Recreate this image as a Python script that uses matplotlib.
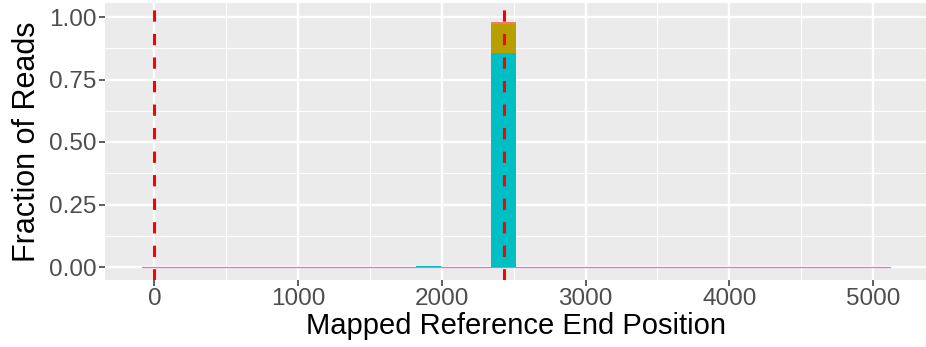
import numpy as np
import matplotlib.pyplot as plt
from matplotlib.ticker import MultipleLocator

# histogram setup (30 bins over the read end positions)
bin_lo = -84
bin_hi = 5118
n_bins = 30

# fraction of reads per bin, one array per group (stack order bottom -> top)
frac_magenta = [0.0] * 30
frac_blue = [0.0] * 30
frac_cyan = [0.0] * 30
frac_green = [0.0] * 30
frac_olive = [0.0] * 30
frac_salmon = [0.0] * 30
frac_cyan[11] = 0.006
frac_cyan[14] = 0.856
frac_olive[14] = 0.118
frac_salmon[14] = 0.005

vlines = [0, 2430]

groups = [
    (frac_magenta, '#F564E3'),
    (frac_blue, '#619CFF'),
    (frac_cyan, '#00BFC4'),
    (frac_green, '#00BA38'),
    (frac_olive, '#B79F00'),
    (frac_salmon, '#F8766D'),
]

plt.rcParams['font.family'] = ['Liberation Sans', 'DejaVu Sans']

fig = plt.figure(figsize=(9.26, 3.47), dpi=100)
ax = fig.add_axes([105/926, 67/347, 821/926, 277/347])
ax.set_facecolor('#EBEBEB')

edges = np.linspace(bin_lo, bin_hi, n_bins + 1)
width = edges[1] - edges[0]
bottom = np.zeros(n_bins)
for vals, col in groups:
    vals = np.array(vals)
    ax.bar(edges[:-1], vals, width=width, bottom=bottom, align='edge',
           color=col, linewidth=0, zorder=3)
    bottom += vals

# zero-height layer shows as a thin line along the bottom
ax.plot([bin_lo, bin_hi], [0, 0], color='#F564E3', linewidth=0.9, zorder=2.5)

for v in vlines:
    ax.axvline(v, color='#FF0000', linewidth=2.2, linestyle=(0, (3.7, 4)), zorder=5)

ax.set_xlim(-344, 5369)
ax.set_ylim(-0.052, 1.056)

ax.xaxis.set_major_locator(MultipleLocator(1000))
ax.xaxis.set_minor_locator(MultipleLocator(500))
ax.yaxis.set_major_locator(MultipleLocator(0.25))
ax.yaxis.set_minor_locator(MultipleLocator(0.125))
ax.yaxis.set_major_formatter(plt.FuncFormatter(lambda v, p: '%.2f' % v))

ax.grid(which='major', color='white', linewidth=1.7, zorder=0)
ax.grid(which='minor', color='white', linewidth=0.8, zorder=0)
ax.set_axisbelow(True)
for s in ax.spines.values():
    s.set_visible(False)

ax.tick_params(which='major', length=4, width=1.1, color='#333333',
               labelsize=17.5, labelcolor='#4D4D4D', pad=2)
ax.tick_params(which='minor', length=0)

ax.set_xlabel('Mapped Reference End Position', fontsize=21, color='black', labelpad=1)
ax.set_ylabel('Fraction of Reads', fontsize=22, color='black', labelpad=5)

fig.savefig('out.png', dpi=100)
